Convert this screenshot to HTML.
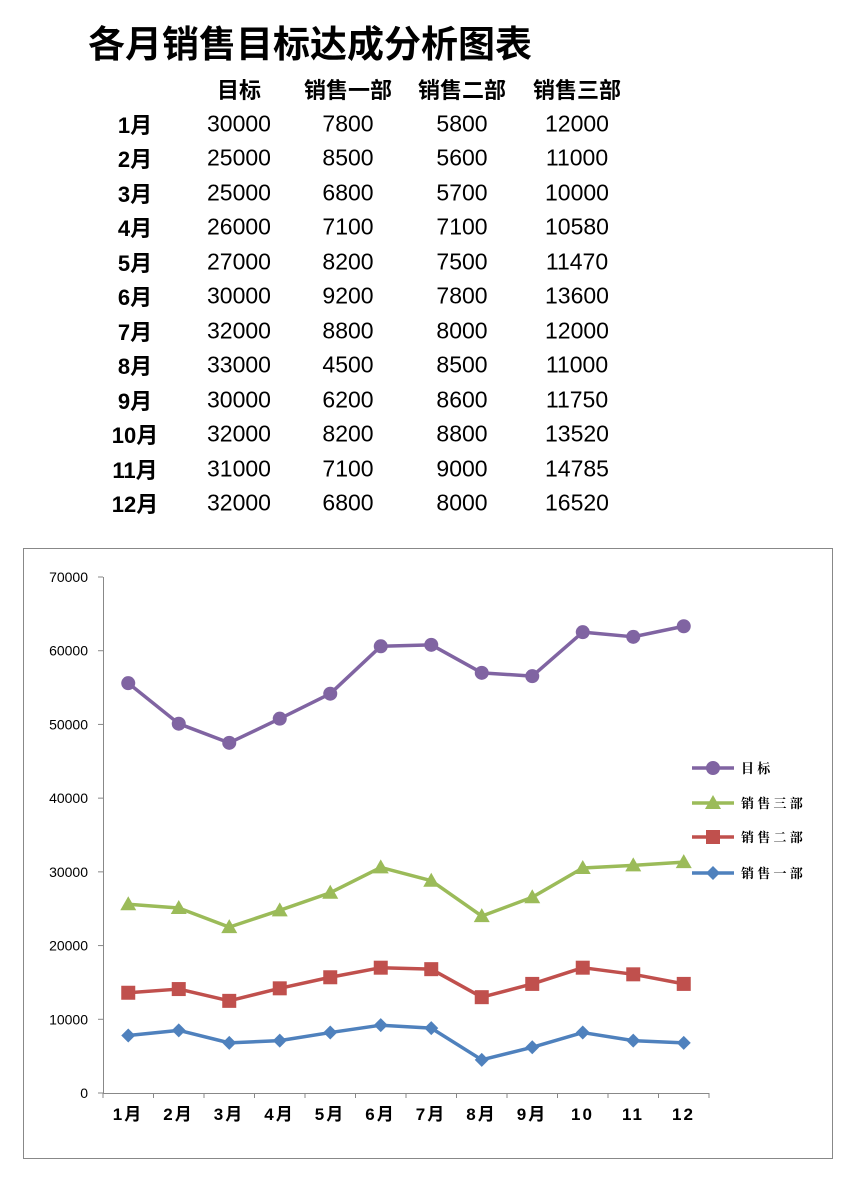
<!DOCTYPE html>
<html><head><meta charset="utf-8"><style>
body{margin:0;width:861px;height:1192px;background:#fff;font-family:"Liberation Sans","Noto Sans CJK SC",sans-serif;position:relative;overflow:hidden}
.t{position:absolute;white-space:nowrap;transform:translate(-50%,-50%);font-size:23px;color:#000}
.b{font-weight:bold;font-size:22px}
</style></head><body>
<div style="position:absolute;left:88px;top:14px;font-size:37px;font-weight:bold;font-family:'Noto Sans CJK SC',sans-serif">各月销售目标达成分析图表</div>
<div id="tb"></div>
<svg style="position:absolute;left:0;top:0" width="861" height="1192" id="s"></svg>
<script>
var T=[30000,25000,25000,26000,27000,30000,32000,33000,30000,32000,31000,32000],
A=[7800,8500,6800,7100,8200,9200,8800,4500,6200,8200,7100,6800],
B=[5800,5600,5700,7100,7500,7800,8000,8500,8600,8800,9000,8000],
C=[12000,11000,10000,10580,11470,13600,12000,11000,11750,13520,14785,16520];
var h='',cx=[135,239,348,462,577],hd=['目标','销售一部','销售二部','销售三部'];
for(var j=0;j<4;j++)h+='<div class="t b" style="left:'+cx[j+1]+'px;top:89px">'+hd[j]+'</div>';
for(var i=0;i<12;i++){var y=124+i*34.45;
h+='<div class="t b" style="left:'+cx[0]+'px;top:'+y+'px">'+(i+1)+'月</div>';
[T,A,B,C].forEach(function(a,k){h+='<div class="t" style="left:'+cx[k+1]+'px;top:'+y+'px">'+a[i]+'</div>'});}
document.getElementById('tb').innerHTML=h;
var s='<rect x="23.5" y="548.5" width="809" height="610" fill="#fff" stroke="#888"/>';
function Y(v){return 1093-v*516/70000}
for(var v=0;v<=70000;v+=10000){s+='<line x1="98" x2="103" y1="'+Y(v)+'" y2="'+Y(v)+'" stroke="#888"/><text x="88" y="'+(Y(v)+5)+'" text-anchor="end" font-size="14" font-family="Liberation Sans">'+v+'</text>'}
s+='<line x1="103.5" x2="103.5" y1="577" y2="1093" stroke="#888"/><line x1="103" x2="709" y1="1093.5" y2="1093.5" stroke="#888"/>';
for(var i=0;i<=12;i++){var x=103+i*50.5;s+='<line x1="'+x+'" x2="'+x+'" y1="1093" y2="1098" stroke="#888"/>'}
var lb=['1月','2月','3月','4月','5月','6月','7月','8月','9月','10','11','12'];
for(var i=0;i<12;i++)s+='<text x="'+(128+i*50.5)+'" y="1120" text-anchor="middle" font-size="17" font-weight="bold" font-family="Liberation Sans,Noto Sans CJK SC,sans-serif" letter-spacing="2">'+lb[i]+'</text>';
var a1=A,a2=[],a3=[],a4=[];
for(var i=0;i<12;i++){a2[i]=A[i]+B[i];a3[i]=a2[i]+C[i];a4[i]=a3[i]+T[i]}
function X(i){return 128.25+i*50.5}
function mk(t,x,y,c){if(t=='c')return '<circle cx="'+x+'" cy="'+y+'" r="7" fill="'+c+'"/>';
if(t=='s')return '<rect x="'+(x-7)+'" y="'+(y-7)+'" width="14" height="14" fill="'+c+'"/>';
if(t=='t')return '<polygon points="'+x+','+(y-8)+' '+(x+8)+','+(y+6)+' '+(x-8)+','+(y+6)+'" fill="'+c+'"/>';
return '<polygon points="'+x+','+(y-7)+' '+(x+7)+','+y+' '+x+','+(y+7)+' '+(x-7)+','+y+'" fill="'+c+'"/>'}
[[a4,'#8064a2','c'],[a3,'#9bbb59','t'],[a2,'#c0504d','s'],[a1,'#4f81bd','d']].forEach(function(r){
var p=r[0].map(function(v,i){return X(i)+','+Y(v)}).join(' ');
s+='<polyline points="'+p+'" fill="none" stroke="'+r[1]+'" stroke-width="3.5" stroke-linejoin="round"/>';
r[0].forEach(function(v,i){s+=mk(r[2],X(i),Y(v),r[1])})});
var L=[['目 标','#8064a2','c',768],['销 售 三 部','#9bbb59','t',803],['销 售 二 部','#c0504d','s',837],['销 售 一 部','#4f81bd','d',873]];
L.forEach(function(l){s+='<line x1="692" x2="734" y1="'+l[3]+'" y2="'+l[3]+'" stroke="'+l[1]+'" stroke-width="3.5"/>'+mk(l[2],713,l[3],l[1])+'<text x="741" y="'+(l[3]+5)+'" font-size="13" font-weight="bold" font-family="Noto Serif CJK SC,serif">'+l[0]+'</text>'});
document.getElementById('s').innerHTML=s;
</script>
</body></html>
